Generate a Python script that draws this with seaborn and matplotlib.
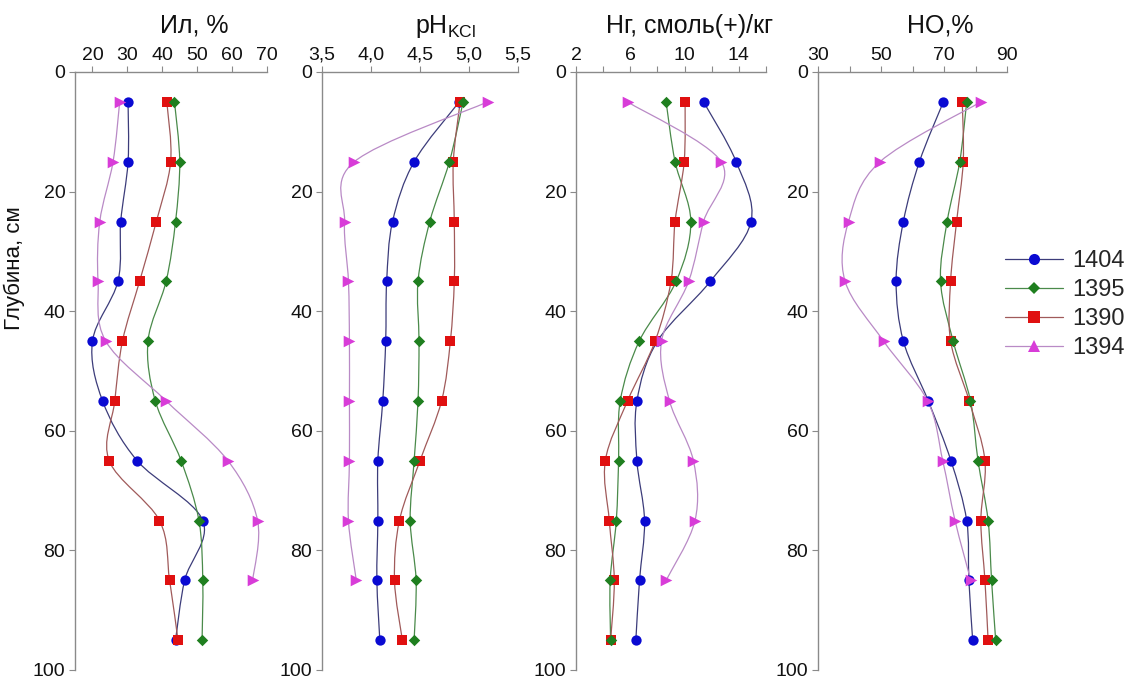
import numpy as np
import pandas as pd
import matplotlib
matplotlib.use("Agg")
import matplotlib.pyplot as plt
import seaborn as sns
from matplotlib.path import Path
from matplotlib.patches import PathPatch
from matplotlib.lines import Line2D
from matplotlib.ticker import FuncFormatter, FixedLocator

# ---------------- data ----------------
depth = [5, 15, 25, 35, 45, 55, 65, 75, 85, 95]
depth_1394 = [5, 15, 25, 35, 45, 55, 65, 75, 85]

profiles = ["1404", "1395", "1390", "1394"]

il_1404 = [30.2, 30.2, 28.1, 27.3, 20.0, 22.9, 32.8, 51.6, 46.4, 43.8]
il_1395 = [43.5, 45.0, 43.8, 41.1, 35.9, 38.0, 45.4, 50.5, 51.6, 51.4]
il_1390 = [41.3, 42.4, 38.3, 33.5, 28.6, 26.4, 24.8, 39.2, 42.1, 44.5]
il_1394 = [27.8, 25.9, 22.1, 21.6, 23.8, 41.1, 58.8, 67.3, 65.9]

ph_1404 = [4.90, 4.44, 4.22, 4.16, 4.15, 4.12, 4.07, 4.07, 4.06, 4.09]
ph_1395 = [4.94, 4.80, 4.60, 4.48, 4.49, 4.48, 4.44, 4.40, 4.46, 4.44]
ph_1390 = [4.91, 4.84, 4.85, 4.85, 4.81, 4.72, 4.50, 4.29, 4.24, 4.32]
ph_1394 = [5.19, 3.83, 3.73, 3.77, 3.78, 3.78, 3.78, 3.77, 3.85]

hg_1404 = [11.4, 13.8, 14.9, 11.9, 8.0, 6.49, 6.49, 7.05, 6.68, 6.41]
hg_1395 = [8.64, 9.3, 10.46, 9.38, 6.66, 5.26, 5.14, 4.97, 4.52, 4.55]
hg_1390 = [10.04, 9.97, 9.3, 9.0, 7.83, 5.8, 4.16, 4.45, 4.82, 4.55]
hg_1394 = [5.8, 12.7, 11.4, 10.3, 8.3, 8.89, 10.65, 10.77, 8.64]

ho_1404 = [69.8, 62.2, 57.1, 54.8, 57.1, 65.0, 72.2, 77.2, 77.9, 79.1]
ho_1395 = [77.2, 75.0, 71.0, 68.9, 72.9, 78.4, 80.8, 84.0, 85.1, 86.4]
ho_1390 = [75.8, 76.1, 74.0, 72.1, 72.1, 78.0, 83.0, 81.7, 83.0, 84.0]
ho_1394 = [81.7, 49.7, 39.7, 38.6, 50.8, 64.8, 69.6, 73.5, 78.5]

titles = ["Ил, %", r"pH$_{\mathrm{KCl}}$", "Нг, смоль(+)/кг", "НО,%"]
ylabel = "Глубина, см"

# ---------------- style ----------------
sns.set_theme(style="white")
plt.rcParams["font.family"] = ["Liberation Sans", "DejaVu Sans"]
plt.rcParams["mathtext.fontset"] = "custom"
plt.rcParams["mathtext.rm"] = "Liberation Sans"
plt.rcParams["mathtext.it"] = "Liberation Sans"

marker_color = {"1404": "#0a0ad2", "1395": "#1f7f1f", "1390": "#e01010", "1394": "#d83cd8"}
line_color = {"1404": "#3c3c7a", "1395": "#4a8a4a", "1390": "#a05a5a", "1394": "#b98ac6"}
markers = {"1404": "o", "1395": "D", "1390": "s", "1394": ">"}
msize = {"1404": 55, "1395": 34, "1390": 55, "1394": 70}
spine_c = "#8a8a8a"

def build(vals):
    rows = []
    for p, v in zip(profiles, vals):
        d = depth_1394 if p == "1394" else depth
        for dd, vv in zip(d, v):
            rows.append({"profile": p, "depth": dd, "value": vv})
    return pd.DataFrame(rows)

frames = [
    build([il_1404, il_1395, il_1390, il_1394]),
    build([ph_1404, ph_1395, ph_1390, ph_1394]),
    build([hg_1404, hg_1395, hg_1390, hg_1394]),
    build([ho_1404, ho_1395, ho_1390, ho_1394]),
]

def smooth_path(x, y):
    # Catmull-Rom spline through the data points, drawn as cubic Bezier
    P = np.column_stack([x, y]).astype(float)
    n = len(P)
    verts = [P[0]]
    codes = [Path.MOVETO]
    for i in range(n - 1):
        p0 = P[i - 1] if i > 0 else P[i]
        p1 = P[i]
        p2 = P[i + 1]
        p3 = P[i + 2] if i + 2 < n else P[i + 1]
        c1 = p1 + (p2 - p0) / 6.0
        c2 = p2 - (p3 - p1) / 6.0
        verts += [c1, c2, p2]
        codes += [Path.CURVE4] * 3
    return Path(verts, codes)

fig = plt.figure(figsize=(11.32, 6.81), dpi=100)
H = 681.0
W = 1132.0
top_px, bot_px = 72, 670
panels_px = [(75, 267), (322, 518), (576, 766), (818, 1007)]
title_cx = [194, 446, 690, 940]
xlims = [(15, 70), (3.5, 5.5), (2, 16), (30, 90)]
xticks = [[20, 30, 40, 50, 60, 70], [3.5, 4.0, 4.5, 5.0, 5.5],
          [2, 4, 6, 8, 10, 12, 14, 16], [30, 40, 50, 60, 70, 80, 90]]
labelled = [None, None, [2, 6, 10, 14], [30, 50, 70, 90]]

for k, (df, (l, r)) in enumerate(zip(frames, panels_px)):
    ax = fig.add_axes([l / W, 1 - bot_px / H, (r - l) / W, (bot_px - top_px) / H])
    for p in profiles:
        sub = df[df.profile == p]
        ax.add_patch(PathPatch(smooth_path(sub.value.values, sub.depth.values),
                               facecolor="none", edgecolor=line_color[p], lw=0.9, zorder=2))
    for p in ["1404", "1390", "1395", "1394"]:
        sub = df[df.profile == p]
        sns.scatterplot(data=sub, x="value", y="depth", ax=ax, marker=markers[p],
                        color=marker_color[p], s=msize[p], linewidth=0, zorder=3,
                        legend=False)
    ax.set_xlim(*xlims[k])
    ax.set_ylim(100, 0)
    ax.xaxis.set_major_locator(FixedLocator(xticks[k]))
    ax.set_yticks([0, 20, 40, 60, 80, 100])
    lab = labelled[k]
    if k == 1:
        ax.xaxis.set_major_formatter(FuncFormatter(lambda v, pos: f"{v:.1f}".replace(".", ",")))
    elif lab is not None:
        ax.xaxis.set_major_formatter(FuncFormatter(lambda v, pos, lab=lab: f"{v:g}" if round(v) in lab else ""))
    else:
        ax.xaxis.set_major_formatter(FuncFormatter(lambda v, pos: f"{v:g}"))
    ax.xaxis.tick_top()
    ax.tick_params(axis="x", which="both", top=True, bottom=False, direction="out",
                   length=4, width=0.8, color=spine_c, labelsize=14, pad=2, labelcolor="#111111")
    ax.tick_params(axis="y", left=True, direction="out", length=4, width=0.8,
                   color=spine_c, labelsize=14, pad=3, labelcolor="#111111")
    for s in ["right", "bottom"]:
        ax.spines[s].set_visible(False)
    for s in ["top", "left"]:
        ax.spines[s].set_color(spine_c)
        ax.spines[s].set_linewidth(1.0)
    ax.set_xlabel("")
    ax.set_ylabel("")
    ax.set_facecolor("white")
    fig.text(title_cx[k] / W, 1 - 26 / H, titles[k], ha="center", va="center", fontsize=18, color="#111111")

fig.text(14 / W, 1 - 268 / H, ylabel, rotation=90, ha="center", va="center", fontsize=16, color="#111111")

handles = [Line2D([], [], color=line_color[p], lw=0.9,
                  marker=("^" if p == "1394" else markers[p]), markersize=(8 if p != "1395" else 6.5),
                  markerfacecolor=marker_color[p], markeredgewidth=0) for p in profiles]
fig.legend(handles, profiles, loc="upper left", bbox_to_anchor=(1005 / W, 1 - 250 / H),
           frameon=False, fontsize=17, handlelength=2.45, labelspacing=0.3,
           handletextpad=0.4, borderpad=0, borderaxespad=0)

fig.savefig("out.png", dpi=100, facecolor="white")
